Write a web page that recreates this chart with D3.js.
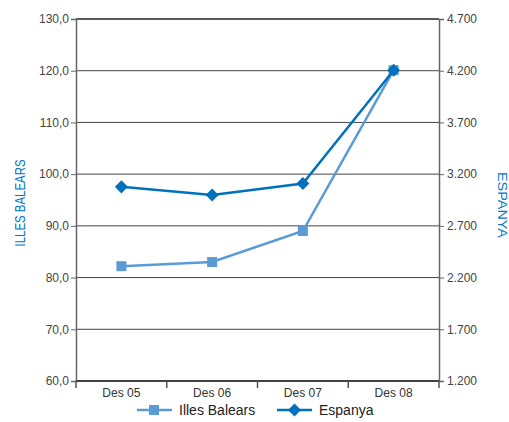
<!DOCTYPE html>
<html><head><meta charset="utf-8">
<script src="https://cdn.jsdelivr.net/npm/d3@7"></script>
<style>body{margin:0;background:#fff;}svg{display:block;font-family:"Liberation Sans",Arial,sans-serif;}</style>
</head><body>
<svg id="c" width="509" height="422"></svg>
<script>
const categories = ["Des 05", "Des 06", "Des 07", "Des 08"];
const illesBalears = [82.2, 83.0, 89.0, 120.1];
const espanya = [3077, 2999, 3110, 4205];
const leftTicks = [60, 70, 80, 90, 100, 110, 120, 130];
const rightTicks = [1200, 1700, 2200, 2700, 3200, 3700, 4200, 4700];
const seriesNames = ["Illes Balears", "Espanya"];
const colors = ["#5b9bd5", "#0071bc"];

const svg = d3.select("#c");
const L = 76, R = 439, T = 19, B = 381;
const x = d3.scaleBand().domain(categories).range([L, R]);
const yL = d3.scaleLinear().domain([60, 130]).range([B, T]);
const yR = d3.scaleLinear().domain([1200, 4700]).range([B, T]);

// gridlines
svg.append("g").selectAll("line").data(leftTicks).join("line")
  .attr("x1", L).attr("x2", R).attr("y1", d => yL(d)).attr("y2", d => yL(d))
  .attr("stroke", d => (d === 130 ? "#222" : "#444")).attr("stroke-width", d => (d === 130 || d === 60) ? 1.5 : 1);

// left axis
const gl = svg.append("g").attr("transform", `translate(${L},0)`)
  .call(d3.axisLeft(yL).tickValues(leftTicks).tickSize(5).tickPadding(2)
    .tickFormat(d => d3.format(".1f")(d).replace(".", ",")));
gl.select(".domain").attr("stroke", "#666").attr("stroke-width", 1.5);
gl.selectAll(".tick line").attr("stroke", "#666");
gl.selectAll("text").attr("font-size", 12).attr("fill", "#444").attr("font-family", "Liberation Sans, Arial, sans-serif");

// right axis
const gr = svg.append("g").attr("transform", `translate(${R},0)`)
  .call(d3.axisRight(yR).tickValues(rightTicks).tickSize(5).tickPadding(3)
    .tickFormat(d => d3.format(",")(d).replace(",", ".")));
gr.select(".domain").attr("stroke", "#666").attr("stroke-width", 1.5);
gr.selectAll(".tick line").attr("stroke", "#666");
gr.selectAll("text").attr("font-size", 12).attr("fill", "#444").attr("font-family", "Liberation Sans, Arial, sans-serif");

// x axis
svg.append("line").attr("x1", L).attr("x2", R).attr("y1", B).attr("y2", B).attr("stroke", "#333").attr("stroke-width", 1.5);
const bounds = categories.map(c => x(c)).concat([R]);
svg.append("g").selectAll("line").data(bounds).join("line")
  .attr("x1", d => d).attr("x2", d => d).attr("y1", B).attr("y2", B + 7)
  .attr("stroke", "#555").attr("stroke-width", 1.5);
svg.append("g").selectAll("text").data(categories).join("text")
  .attr("x", d => x(d) + x.bandwidth() / 2).attr("y", B + 16)
  .attr("text-anchor", "middle").attr("font-size", 12).attr("fill", "#333").text(d => d);

// axis titles
svg.append("text").attr("transform", `translate(25,203) rotate(-90)`)
  .attr("text-anchor", "middle").attr("font-size", 15).attr("fill", "#0077c8")
  .attr("textLength", 87).attr("lengthAdjust", "spacingAndGlyphs").text("ILLES BALEARS");
svg.append("text").attr("transform", `translate(498,205) rotate(90)`)
  .attr("text-anchor", "middle").attr("font-size", 12).attr("fill", "#0077c8")
  .attr("textLength", 66).attr("lengthAdjust", "spacingAndGlyphs").text("ESPANYA");

const cx = d => x(d) + x.bandwidth() / 2;

// Illes Balears
const line1 = d3.line().x((d, i) => cx(categories[i])).y(d => yL(d));
svg.append("path").datum(illesBalears).attr("d", line1).attr("fill", "none")
  .attr("stroke", colors[0]).attr("stroke-width", 2.5);
svg.append("g").selectAll("rect").data(illesBalears).join("rect")
  .attr("x", (d, i) => cx(categories[i]) - 5).attr("y", d => yL(d) - 5)
  .attr("width", 10).attr("height", 10).attr("fill", colors[0]);

// Espanya
const line2 = d3.line().x((d, i) => cx(categories[i])).y(d => yR(d));
svg.append("path").datum(espanya).attr("d", line2).attr("fill", "none")
  .attr("stroke", colors[1]).attr("stroke-width", 2.5);
const diamond = d3.symbol().type(d3.symbolSquare).size(85);
svg.append("g").selectAll("path").data(espanya).join("path")
  .attr("d", diamond)
  .attr("transform", (d, i) => `translate(${cx(categories[i])},${yR(d)}) rotate(45)`)
  .attr("fill", colors[1]);

// legend
const leg = [{x: 137, name: seriesNames[0], c: colors[0], shape: "sq"}, {x: 277, name: seriesNames[1], c: colors[1], shape: "di"}];
const lg = svg.append("g");
leg.forEach(l => {
  const ly = 410;
  lg.append("line").attr("x1", l.x).attr("x2", l.x + 35).attr("y1", ly).attr("y2", ly)
    .attr("stroke", l.c).attr("stroke-width", 2.5);
  if (l.shape === "sq") {
    lg.append("rect").attr("x", l.x + 12).attr("y", ly - 5).attr("width", 10).attr("height", 10).attr("fill", l.c);
  } else {
    lg.append("path").attr("d", diamond).attr("transform", `translate(${l.x + 17.5},${ly}) rotate(45)`).attr("fill", l.c);
  }
  lg.append("text").attr("x", l.x + 42).attr("y", ly + 5).attr("font-size", 14).attr("fill", "#222").text(l.name);
});
</script>
</body></html>
